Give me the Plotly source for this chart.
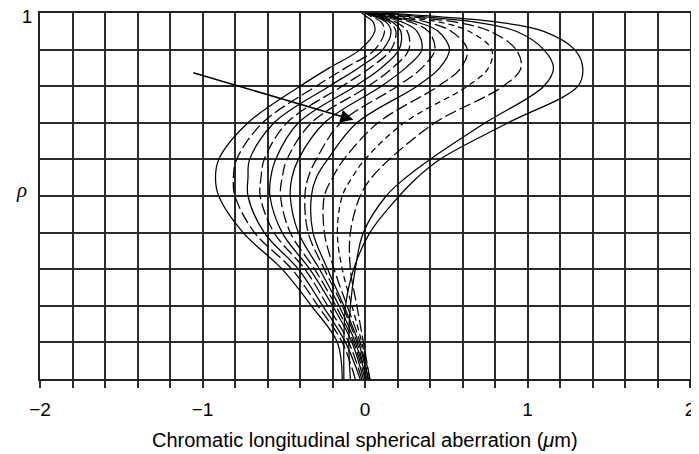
import plotly.graph_objects as go

# pupil coordinate samples (shared by every curve)
rho = [0, 0.1, 0.2, 0.3, 0.4, 0.5, 0.55, 0.6, 0.7, 0.8, 0.85, 0.9, 0.95, 0.975, 0.99, 1.0]

# chromatic longitudinal spherical aberration (um), one list per wavelength
c01 = [-0.14, -0.17, -0.33, -0.51, -0.75, -0.90, -0.92, -0.90, -0.72, -0.40, -0.22, -0.03, 0.06, 0.05, 0.01, -0.02]
c02 = [-0.06, -0.14, -0.29, -0.45, -0.68, -0.80, -0.81, -0.79, -0.63, -0.30, -0.12, 0.06, 0.12, 0.10, 0.04, 0.0]
c03 = [-0.03, -0.12, -0.26, -0.41, -0.62, -0.72, -0.72, -0.71, -0.56, -0.22, -0.04, 0.11, 0.16, 0.13, 0.06, 0.0]
c04 = [-0.02, -0.10, -0.23, -0.37, -0.56, -0.645, -0.64, -0.62, -0.48, -0.14, 0.03, 0.16, 0.19, 0.15, 0.07, 0.01]
c05 = [-0.01, -0.08, -0.20, -0.34, -0.51, -0.585, -0.58, -0.55, -0.41, -0.06, 0.10, 0.21, 0.22, 0.17, 0.08, 0.01]
c06 = [0.0, -0.07, -0.18, -0.31, -0.46, -0.52, -0.51, -0.48, -0.33, 0.02, 0.17, 0.27, 0.26, 0.19, 0.09, 0.02]
c07 = [0.01, -0.06, -0.16, -0.28, -0.41, -0.46, -0.45, -0.41, -0.25, 0.10, 0.25, 0.35, 0.32, 0.23, 0.11, 0.02]
c08 = [0.01, -0.05, -0.14, -0.25, -0.35, -0.37, -0.35, -0.30, -0.15, 0.20, 0.35, 0.43, 0.39, 0.28, 0.13, 0.03]
c09 = [0.02, -0.04, -0.13, -0.23, -0.32, -0.33, -0.30, -0.23, -0.05, 0.32, 0.46, 0.52, 0.45, 0.32, 0.15, 0.03]
c10 = [0.02, -0.03, -0.11, -0.19, -0.25, -0.25, -0.20, -0.13, 0.08, 0.45, 0.59, 0.63, 0.53, 0.38, 0.18, 0.04]
c11 = [0.03, -0.02, -0.08, -0.14, -0.17, -0.14, -0.08, 0.0, 0.24, 0.63, 0.76, 0.78, 0.64, 0.46, 0.22, 0.05]
c12 = [0.03, -0.01, -0.05, -0.09, -0.09, -0.03, 0.04, 0.15, 0.43, 0.85, 0.96, 0.93, 0.77, 0.56, 0.27, 0.06]
c13 = [-0.09, -0.10, -0.09, -0.06, -0.01, 0.13, 0.25, 0.40, 0.74, 1.10, 1.16, 1.10, 0.93, 0.68, 0.35, 0.08]
c14 = [-0.13, -0.13, -0.12, -0.07, 0.03, 0.21, 0.32, 0.46, 0.88, 1.31, 1.34, 1.29, 1.10, 0.82, 0.45, 0.10]

curves = [c01, c02, c03, c04, c05, c06, c07, c08, c09, c10, c11, c12, c13, c14]
LONG = "12px,4px"
SHORT = "6px,4px"
dashes = ["solid", LONG, "solid", LONG, "solid", LONG, "solid",
          LONG, "solid", LONG, SHORT, LONG, "solid", "solid"]

x_ticks = [round(-2 + 0.2 * i, 1) for i in range(21)]
x_labels = {-2.0: "\u22122", -1.0: "\u22121", 0.0: "0", 1.0: "1", 2.0: "2"}
y_ticks = [round(0.1 * i, 1) for i in range(11)]
y_labels = {1.0: "1"}

FONT = "Liberation Sans, Arial, sans-serif"

fig = go.Figure()
for xs, d in zip(curves, dashes):
    fig.add_trace(go.Scatter(
        x=xs, y=rho, mode="lines",
        line=dict(color="black", width=1.25, dash=d, shape="spline", smoothing=1.0),
        showlegend=False, hoverinfo="skip",
    ))

fig.add_annotation(
    x=-0.072, y=0.708, ax=-1.066, ay=0.838, xref="x", yref="y", axref="x", ayref="y",
    showarrow=True, arrowhead=2, arrowsize=1.6, arrowwidth=1.6, arrowcolor="black", text="",
)
fig.add_annotation(
    x=-0.028, y=0.517, xref="paper", yref="paper", text="<i>\u03c1</i>", showarrow=False,
    font=dict(family="Liberation Serif, Times New Roman, serif", size=21, color="black"),
    xanchor="center", yanchor="middle",
)
fig.add_annotation(
    x=0.5, y=-0.166, xref="paper", yref="paper",
    text="Chromatic longitudinal spherical aberration (<i>\u03bc</i>m)", showarrow=False,
    font=dict(family=FONT, size=20, color="black"), xanchor="center", yanchor="middle",
)

# the page adds an 8 px body margin, so the figure is shrunk by it
fig.update_layout(
    width=691, height=446,
    margin=dict(l=32, r=9, t=5, b=75),
    paper_bgcolor="white", plot_bgcolor="white",
    font=dict(family=FONT, size=19, color="black"),
)
fig.update_xaxes(
    range=[-2, 2], tickmode="array", tickvals=x_ticks,
    ticktext=[x_labels.get(v, "") for v in x_ticks],
    showgrid=True, gridcolor="#2a2a2a", gridwidth=1.5,
    ticks="outside", ticklen=7, tickwidth=1.5, tickcolor="#2a2a2a",
    showline=True, linecolor="#222222", linewidth=1.5, mirror=True,
    zeroline=False, ticklabelstandoff=5, automargin=False, ticklabeloverflow="allow",
)
fig.update_yaxes(
    range=[0, 1], tickmode="array", tickvals=y_ticks,
    ticktext=[y_labels.get(v, "") for v in y_ticks],
    showgrid=True, gridcolor="#2a2a2a", gridwidth=1.5,
    ticks="", showline=True, linecolor="#222222", linewidth=1.5, mirror=True,
    zeroline=False, ticklabelstandoff=2, automargin=False, ticklabeloverflow="allow",
    ticklabelshift=3,
)

fig.write_html("out.html")
